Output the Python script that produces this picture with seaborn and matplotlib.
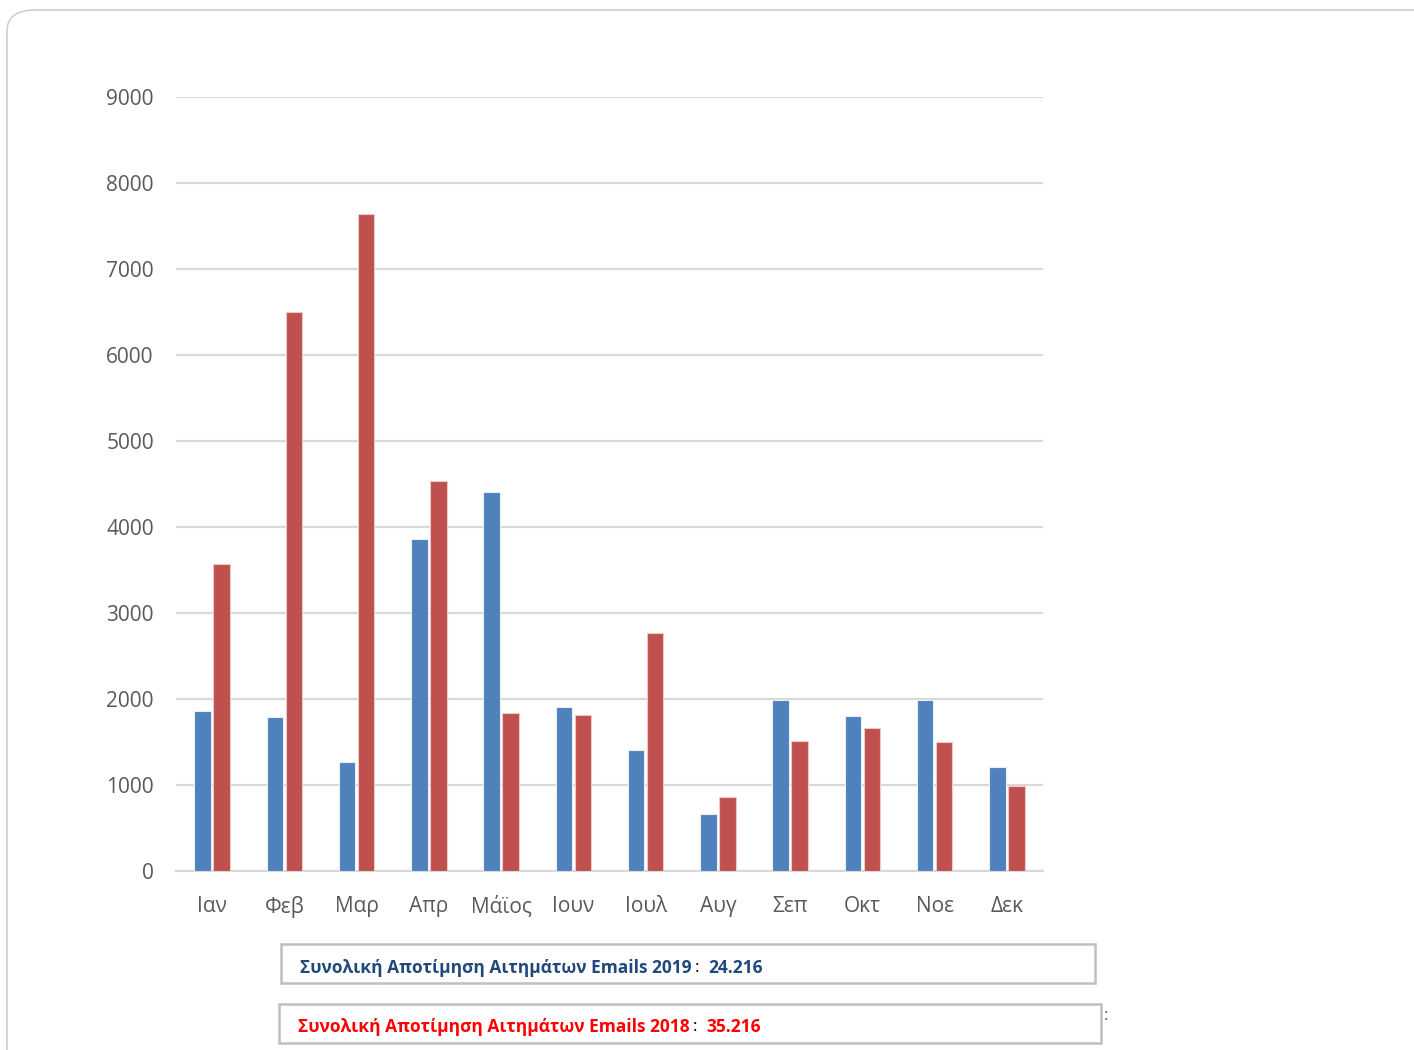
import numpy as np
import pandas as pd
import seaborn as sns
import matplotlib.pyplot as plt
import matplotlib.patches as mpatches

months = ['Ιαν', 'Φεβ', 'Μαρ', 'Απρ', 'Μάϊος', 'Ιουν', 'Ιουλ', 'Αυγ', 'Σεπ', 'Οκτ', 'Νοε', 'Δεκ']
emails_2019 = [1860, 1790, 1267, 3860, 4407, 1907, 1407, 663, 1988, 1802, 1988, 1209]
emails_2018 = [3570, 6500, 7640, 4535, 1837, 1814, 2767, 860, 1512, 1663, 1500, 988]
y_ticks = [0, 1000, 2000, 3000, 4000, 5000, 6000, 7000, 8000, 9000]
total_2019 = 'Συνολική Αποτίμηση Αιτημάτων Emails 2019'
total_2019_val = '24.216'
total_2018 = 'Συνολική Αποτίμηση Αιτημάτων Emails 2018'
total_2018_val = '35.216'

df = pd.DataFrame({'month': months * 2,
                   'value': emails_2019 + emails_2018,
                   'year': ['2019'] * 12 + ['2018'] * 12})

sns.set_style('white')
plt.rcParams['font.family'] = ['Open Sans', 'DejaVu Sans']

fig = plt.figure(figsize=(14.14, 10.5), dpi=100)
W, H = 1414, 1050
ax = fig.add_axes([176 / W, 1 - 871 / H, (1043 - 176) / W, (871 - 97) / H])

sns.barplot(ax=ax, data=df, x='month', y='value', hue='year',
            palette={'2019': '#4F81BD', '2018': '#C0504D'}, saturation=1,
            width=0.52, gap=0.12, edgecolor='#E8EEF6', linewidth=0.8,
            legend=False, zorder=3)
for p in ax.patches:
    if p.get_facecolor()[0] > 0.6:
        p.set_edgecolor('#EBC9C8')

ax.set_ylim(0, 9000)
ax.set_xlim(-0.5, 11.5)
ax.set_yticks(y_ticks)
ax.yaxis.grid(True, color='#D9D9D9', linewidth=1.6, zorder=0)
ax.set_axisbelow(True)
ax.set_xlabel('')
ax.set_ylabel('')
for s in ['top', 'right', 'left']:
    ax.spines[s].set_visible(False)
ax.spines['bottom'].set_color('#D9D9D9')
ax.spines['bottom'].set_linewidth(1.6)
ax.tick_params(axis='both', length=0, labelsize=15, colors='#595959')
ax.tick_params(axis='y', pad=16)
ax.tick_params(axis='x', pad=18)

# outer rounded frame
frame = mpatches.FancyBboxPatch((7 / W, -0.05), 1.5, 1 - 10 / H + 0.05,
                                boxstyle='round,pad=0,rounding_size=0.02',
                                transform=fig.transFigure, fill=False,
                                edgecolor='#D0D0D0', linewidth=1.2)
fig.patches.append(frame)

# summary boxes
box1 = mpatches.Rectangle((281 / W, 1 - 983 / H), (1095 - 281) / W, 39 / H,
                          transform=fig.transFigure, fill=False,
                          edgecolor='#BFBFBF', linewidth=1.8)
box2 = mpatches.Rectangle((279 / W, 1 - 1043 / H), (1101 - 279) / W, 39 / H,
                          transform=fig.transFigure, fill=False,
                          edgecolor='#BFBFBF', linewidth=1.8)
fig.patches.extend([box1, box2])

renderer = fig.canvas.get_renderer()


def summary_line(x, y, label, value, color):
    t = fig.text(x / W, 1 - y / H, label, color=color, fontsize=12.5,
                 fontweight='bold', va='center')
    x_end = t.get_window_extent(renderer).x1
    c = fig.text((x_end + 3) / W, 1 - y / H, ':', color='black',
                 fontsize=12.5, va='center')
    x_end = c.get_window_extent(renderer).x1
    fig.text((x_end + 9) / W, 1 - y / H, value, color=color, fontsize=12.5,
             fontweight='bold', va='center')


summary_line(300, 968, total_2019, total_2019_val, '#1F497D')
summary_line(298, 1027, total_2018, total_2018_val, '#FF0000')
fig.text(1104 / W, 1 - 1016 / H, ':', color='#595959', fontsize=12, va='center')

plt.savefig('out.png', dpi=100)
plt.close()
